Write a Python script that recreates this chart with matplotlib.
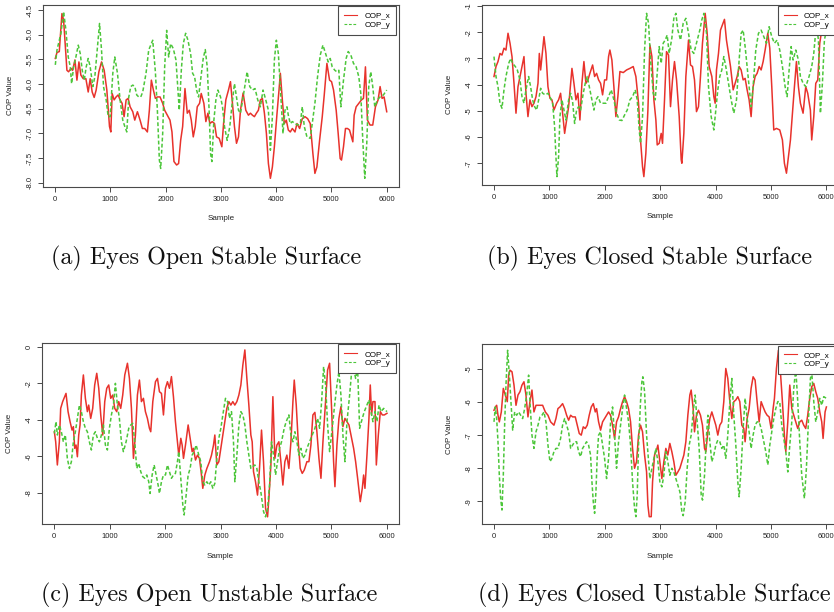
import matplotlib
matplotlib.use("Agg")
import matplotlib.pyplot as plt

plt.rcParams['font.family'] = ['Liberation Sans', 'DejaVu Sans']
plt.rcParams['axes.unicode_minus'] = False

# ---------------- data (sample, COP value) ----------------
a_x = [(6,-5.48),(36,-5.36),(78,-5.34),(126,-4.57),(156,-4.70),(180,-5.11),(216,-5.72),(246,-5.75),(289,-5.68),(319,-5.72),
       (361,-5.51),(397,-5.92),(433,-5.55),(469,-5.82),(511,-5.89),(559,-5.89),(601,-6.16),(637,-5.89),(673,-6.16),(709,-6.27),
       (745,-6.12),(794,-5.75),(842,-5.55),(890,-5.72),(938,-6.12),(986,-6.86),(1010,-6.97),(1034,-6.19),(1070,-6.32),(1106,-6.26),
       (1142,-6.22),(1178,-6.32),(1214,-6.39),(1250,-6.66),(1287,-6.32),(1323,-6.29),(1359,-6.46),(1407,-6.56),(1443,-6.73),(1491,-6.56),
       (1539,-6.73),(1581,-6.90),(1623,-6.90),(1671,-6.97),(1707,-6.53),(1743,-5.92),(1780,-6.12),(1816,-6.29),(1852,-6.26),(1900,-6.26),
       (1948,-6.39),(1984,-6.53),(2032,-6.63),(2080,-6.73),(2116,-6.97),(2152,-7.57),(2200,-7.64),(2236,-7.61),(2273,-7.14),(2309,-6.86),
       (2351,-6.09),(2393,-6.59),(2429,-6.53),(2465,-6.73),(2501,-7.07),(2537,-6.86),(2573,-6.46),(2615,-6.39),(2645,-6.19),(2693,-6.39),
       (2729,-6.76),(2766,-6.59),(2802,-6.80),(2844,-6.76),(2886,-6.80),(2922,-7.07),(2970,-7.10),(3018,-7.27),(3054,-6.73),(3090,-6.32),
       (3138,-6.12),(3174,-5.95),(3210,-6.39),(3246,-6.86),(3283,-7.20),(3319,-7.07),(3355,-6.53),(3403,-6.18),(3451,-6.53),(3499,-6.63),
       (3535,-6.59),(3571,-6.63),(3607,-6.66),(3643,-6.59),(3679,-6.53),(3715,-6.32),(3751,-6.29),(3788,-6.59),(3824,-7.00),(3860,-7.61),
       (3896,-7.91),(3932,-7.68),(3968,-7.27),(4016,-6.59),(4052,-6.12),(4076,-5.78),(4112,-6.32),(4148,-6.80),(4184,-6.73),(4220,-6.93),
       (4256,-6.97),(4293,-6.90),(4341,-6.97),(4377,-6.80),(4425,-6.90),(4473,-6.70),(4521,-6.66),(4569,-6.70),(4617,-6.80),(4665,-7.41),
       (4701,-7.81),(4737,-7.68),(4786,-7.14),(4834,-6.66),(4870,-6.22),(4918,-5.58),(4966,-5.92),(5002,-5.95),(5038,-6.12),(5086,-6.53),
       (5122,-7.00),(5158,-7.51),(5182,-7.54),(5218,-7.27),(5254,-6.90),(5291,-6.90),(5327,-6.93),(5363,-7.07),(5387,-7.17),(5411,-6.63),
       (5447,-6.46),(5495,-6.39),(5543,-6.32),(5579,-6.29),(5615,-5.65),(5651,-6.73),(5699,-6.83),(5747,-6.83),(5796,-6.46),(5844,-6.32),
       (5880,-6.05),(5916,-6.29),(5952,-6.26),(6000,-6.56)]
a_y = [(6,-5.61),(36,-5.31),(78,-5.11),(108,-4.97),(156,-4.53),(198,-4.91),(240,-5.45),(277,-5.65),(301,-5.99),(337,-5.65),
       (373,-5.48),(421,-5.21),(457,-5.38),(493,-5.72),(529,-5.92),(565,-5.65),(601,-5.48),(637,-5.65),(685,-6.05),(721,-5.85),
       (758,-5.38),(806,-4.77),(842,-5.31),(878,-6.05),(926,-6.32),(962,-6.66),(998,-6.66),(1046,-5.78),(1082,-5.45),(1130,-5.78),
       (1178,-6.32),(1226,-6.73),(1263,-6.86),(1299,-6.97),(1335,-6.26),(1371,-6.05),(1407,-6.02),(1443,-6.05),(1479,-6.22),(1515,-6.26),
       (1551,-6.26),(1587,-6.16),(1647,-5.78),(1695,-5.31),(1768,-5.11),(1816,-5.75),(1852,-6.53),(1888,-7.54),(1912,-7.71),(1948,-7.00),
       (1984,-5.65),(2020,-4.91),(2056,-5.45),(2092,-5.18),(2140,-5.28),(2188,-5.51),(2224,-6.12),(2248,-6.53),(2285,-5.72),(2321,-5.18),
       (2363,-4.97),(2405,-5.11),(2453,-5.38),(2489,-5.78),(2525,-5.85),(2561,-6.12),(2597,-6.26),(2633,-5.92),(2681,-5.48),(2718,-5.30),
       (2754,-5.65),(2790,-6.59),(2814,-7.41),(2838,-7.57),(2874,-6.73),(2910,-6.32),(2946,-6.12),(2994,-6.26),(3030,-6.46),(3066,-6.86),
       (3114,-7.14),(3162,-6.86),(3198,-6.46),(3246,-5.99),(3283,-6.26),(3319,-6.53),(3355,-6.59),(3403,-6.26),(3475,-5.75),(3523,-6.05),
       (3571,-6.12),(3619,-6.09),(3667,-6.32),(3715,-6.46),(3763,-6.12),(3812,-6.32),(3860,-6.53),(3896,-7.34),(3932,-6.66),(3968,-5.51),
       (4004,-5.11),(4040,-5.38),(4088,-6.32),(4124,-7.00),(4160,-6.53),(4196,-6.46),(4220,-6.63),(4256,-6.80),(4293,-6.76),(4341,-6.80),
       (4389,-6.83),(4437,-6.80),(4473,-6.46),(4509,-6.86),(4557,-7.07),(4617,-7.10),(4653,-6.80),(4701,-6.39),(4749,-5.85),(4798,-5.41),
       (4846,-5.21),(4894,-5.38),(4942,-5.55),(4978,-5.48),(5014,-5.65),(5062,-5.72),(5098,-5.75),(5134,-5.72),(5170,-6.46),(5218,-5.92),
       (5266,-5.48),(5303,-5.34),(5351,-5.41),(5399,-5.58),(5447,-5.65),(5495,-5.85),(5531,-6.19),(5567,-7.14),(5603,-7.91),(5639,-7.20),
       (5675,-6.05),(5711,-5.75),(5747,-6.05),(5784,-6.46),(5832,-6.32),(5880,-6.26),(5940,-6.22),(6000,-6.12)]

b_x = [(0,-3.69),(36,-3.31),(72,-3.12),(108,-2.81),(144,-2.87),(180,-2.61),(216,-2.68),(253,-2.04),(289,-2.42),(325,-2.93),
       (361,-3.95),(397,-5.09),(433,-4.08),(469,-3.69),(505,-3.31),(541,-2.93),(577,-4.33),(613,-5.22),(649,-4.58),(685,-4.84),
       (721,-4.71),(758,-4.46),(794,-3.95),(818,-2.81),(842,-3.44),(866,-2.93),(902,-2.17),(938,-2.81),(974,-4.08),(1010,-4.52),
       (1046,-4.58),(1082,-4.97),(1130,-4.71),(1166,-4.58),(1202,-4.33),(1238,-5.09),(1275,-5.86),(1311,-5.35),(1347,-4.84),(1383,-3.95),
       (1407,-3.38),(1443,-3.95),(1479,-4.58),(1515,-4.33),(1551,-5.35),(1587,-3.95),(1623,-3.12),(1659,-3.95),(1695,-3.82),(1731,-3.57),
       (1780,-3.25),(1816,-3.69),(1852,-3.57),(1888,-3.82),(1924,-3.95),(1960,-4.39),(1996,-3.82),(2032,-3.82),(2068,-2.93),(2092,-2.68),
       (2128,-3.06),(2164,-4.08),(2200,-5.22),(2236,-4.46),(2273,-3.50),(2333,-3.54),(2393,-3.44),(2453,-3.38),(2513,-3.31),(2561,-3.69),
       (2609,-4.71),(2645,-6.11),(2681,-7.13),(2705,-7.51),(2741,-6.62),(2778,-4.97),(2814,-2.49),(2850,-2.93),(2886,-4.58),(2922,-5.35),
       (2946,-6.30),(2982,-6.24),(3018,-5.86),(3042,-6.24),(3078,-4.58),(3114,-2.74),(3150,-2.87),(3186,-4.84),(3222,-3.82),(3258,-3.12),
       (3295,-3.82),(3343,-5.22),(3379,-6.87),(3391,-7.00),(3427,-5.86),(3463,-3.69),(3511,-2.30),(3547,-3.25),(3583,-3.31),(3619,-3.82),
       (3655,-5.03),(3691,-4.84),(3727,-3.69),(3763,-2.42),(3812,-1.28),(3848,-2.04),(3884,-3.31),(3932,-3.69),(3968,-4.46),(3992,-4.71),
       (4016,-3.44),(4052,-2.81),(4088,-1.92),(4124,-1.72),(4160,-1.51),(4196,-2.30),(4232,-2.81),(4269,-3.31),(4317,-4.20),(4353,-3.95),
       (4389,-3.69),(4425,-3.31),(4461,-3.44),(4497,-3.82),(4533,-3.76),(4569,-4.20),(4605,-4.58),(4641,-5.22),(4677,-4.08),(4713,-3.69),
       (4749,-3.57),(4786,-3.31),(4822,-3.44),(4858,-3.12),(4894,-2.68),(4942,-2.04),(4978,-2.61),(5014,-4.08),(5050,-5.73),(5098,-5.67),
       (5158,-5.73),(5206,-6.11),(5242,-7.00),(5279,-7.38),(5315,-6.75),(5351,-6.11),(5387,-5.09),(5423,-4.08),(5459,-3.12),(5495,-4.08),
       (5531,-4.71),(5579,-5.09),(5627,-4.08),(5663,-4.33),(5711,-4.97),(5735,-6.11),(5772,-5.22),(5808,-3.95),(5844,-3.82),(5880,-2.42),
       (5916,-1.92),(5960,-1.75)]
b_y = [(0,-2.93),(36,-3.69),(72,-4.08),(108,-4.71),(144,-4.90),(180,-4.20),(216,-3.69),(265,-3.19),(301,-3.00),(337,-3.19),
       (385,-3.31),(421,-3.44),(469,-3.82),(505,-4.46),(541,-4.71),(577,-4.20),(625,-3.69),(661,-4.08),(697,-4.58),(733,-4.84),
       (770,-4.97),(806,-4.58),(842,-4.14),(878,-4.33),(926,-4.39),(974,-4.33),(1010,-4.46),(1058,-4.71),(1094,-5.60),(1118,-6.75),
       (1136,-7.51),(1166,-6.75),(1190,-5.22),(1226,-4.58),(1263,-4.97),(1299,-5.35),(1347,-4.58),(1383,-4.33),(1419,-4.65),(1455,-5.48),
       (1491,-4.97),(1527,-4.84),(1563,-4.97),(1611,-4.33),(1647,-3.95),(1683,-3.69),(1719,-4.08),(1756,-4.46),(1804,-4.97),(1840,-4.58),
       (1876,-4.46),(1924,-4.71),(1972,-4.71),(2020,-4.71),(2068,-4.46),(2116,-4.20),(2164,-4.58),(2212,-5.09),(2261,-5.35),(2309,-5.37),
       (2357,-5.16),(2405,-4.97),(2453,-4.58),(2501,-4.46),(2549,-4.20),(2585,-4.58),(2621,-5.73),(2645,-6.24),(2681,-5.22),(2718,-2.68),
       (2754,-1.28),(2790,-1.66),(2826,-3.06),(2874,-4.33),(2910,-4.58),(2946,-3.57),(2982,-2.55),(3018,-3.19),(3054,-2.42),(3090,-2.30),
       (3126,-2.11),(3162,-2.81),(3210,-2.23),(3246,-1.47),(3283,-1.28),(3319,-1.92),(3367,-2.30),(3415,-1.66),(3463,-1.47),(3511,-2.04),
       (3559,-2.68),(3607,-2.81),(3655,-2.42),(3715,-1.92),(3751,-1.53),(3788,-1.28),(3836,-2.04),(3872,-4.08),(3920,-5.22),(3968,-5.73),
       (4004,-4.97),(4040,-4.20),(4076,-3.69),(4112,-3.44),(4148,-2.93),(4184,-3.31),(4232,-3.95),(4281,-4.58),(4329,-5.09),(4377,-4.58),
       (4425,-3.06),(4461,-2.04),(4497,-1.92),(4533,-2.55),(4569,-3.31),(4605,-4.08),(4641,-4.84),(4677,-4.08),(4725,-2.68),(4774,-2.04),
       (4822,-1.92),(4870,-2.17),(4918,-2.42),(4966,-1.79),(5014,-2.17),(5062,-2.42),(5110,-2.30),(5158,-2.68),(5206,-3.31),(5255,-4.08),
       (5291,-4.46),(5327,-3.44),(5363,-2.55),(5399,-3.06),(5447,-2.68),(5495,-3.06),(5531,-3.69),(5579,-3.95),(5627,-4.08),(5687,-3.69),
       (5735,-3.31),(5772,-2.81),(5820,-1.66),(5856,-2.30),(5892,-5.09),(5928,-3.95),(5964,-2.30),(6000,-1.92)]

c_x = [(6,-4.66),(30,-5.21),(60,-6.48),(96,-5.21),(120,-3.38),(156,-3.01),(192,-2.74),(216,-2.56),(253,-3.56),(289,-4.11),
       (325,-4.57),(349,-4.38),(373,-5.57),(397,-5.39),(421,-6.03),(445,-4.84),(469,-4.29),(493,-2.65),(529,-1.55),(565,-2.83),
       (601,-3.56),(625,-3.20),(661,-3.93),(697,-3.38),(733,-2.10),(770,-1.46),(806,-2.28),(842,-3.74),(878,-4.84),(914,-3.01),
       (950,-2.28),(986,-2.10),(1022,-2.83),(1058,-2.65),(1094,-3.38),(1130,-3.56),(1166,-3.01),(1202,-3.38),(1238,-2.65),(1275,-1.55),
       (1323,-0.91),(1359,-1.74),(1395,-3.38),(1431,-6.12),(1467,-4.84),(1503,-2.65),(1539,-1.83),(1575,-3.01),(1611,-2.83),(1647,-3.56),
       (1683,-3.93),(1719,-4.47),(1743,-4.66),(1780,-3.01),(1828,-1.92),(1864,-1.74),(1900,-2.47),(1936,-2.56),(1972,-3.74),(2008,-2.28),
       (2044,-1.92),(2080,-2.28),(2116,-1.64),(2152,-2.74),(2188,-4.11),(2224,-5.21),(2248,-5.94),(2285,-5.02),(2309,-5.39),(2333,-6.12),
       (2369,-5.39),(2417,-4.29),(2453,-5.02),(2489,-5.75),(2513,-5.57),(2549,-6.21),(2585,-5.94),(2621,-6.12),(2657,-7.03),(2681,-7.76),
       (2718,-7.03),(2754,-6.67),(2802,-6.30),(2838,-5.94),(2874,-5.39),(2898,-4.84),(2934,-6.48),(2970,-6.30),(3006,-5.57),(3042,-4.84),
       (3078,-4.11),(3114,-3.38),(3150,-3.01),(3186,-3.20),(3222,-3.01),(3258,-3.20),(3295,-3.01),(3331,-2.65),(3367,-2.10),(3403,-1.00),
       (3439,-0.18),(3475,-1.74),(3511,-3.20),(3547,-4.84),(3571,-5.21),(3595,-6.85),(3631,-7.40),(3667,-8.13),(3703,-6.67),(3739,-4.57),
       (3775,-6.30),(3812,-8.86),(3848,-9.32),(3872,-8.31),(3908,-6.48),(3944,-2.74),(3980,-6.12),(4016,-5.39),(4052,-5.21),(4088,-6.30),
       (4124,-7.58),(4160,-6.30),(4196,-5.94),(4232,-6.67),(4269,-5.21),(4305,-3.01),(4329,-1.83),(4365,-3.20),(4401,-5.21),(4437,-6.67),
       (4473,-6.94),(4509,-6.76),(4557,-6.30),(4593,-6.30),(4629,-5.39),(4665,-3.74),(4701,-3.60),(4737,-4.66),(4774,-6.12),(4810,-7.21),
       (4846,-5.21),(4894,-3.01),(4930,-1.28),(4966,-0.91),(5002,-3.38),(5038,-6.30),(5062,-7.67),(5098,-5.39),(5134,-3.93),(5170,-3.29),
       (5206,-4.38),(5242,-3.93),(5279,-4.11),(5315,-4.29),(5351,-4.84),(5399,-5.57),(5435,-6.30),(5471,-7.21),(5519,-8.49),(5555,-7.76),
       (5579,-7.03),(5603,-7.76),(5639,-5.94),(5675,-3.93),(5699,-2.10),(5723,-3.74),(5747,-3.01),(5784,-3.01),(5808,-6.48),(5844,-4.84),
       (5880,-3.56),(5916,-3.74),(5952,-3.74),(6000,-3.65)]
c_y = [(6,-4.75),(36,-4.11),(60,-4.84),(96,-4.29),(132,-4.66),(168,-5.21),(204,-4.84),(240,-6.12),(277,-6.67),(313,-6.30),
       (349,-5.21),(385,-4.66),(421,-3.93),(457,-3.20),(493,-3.56),(529,-4.11),(565,-4.47),(601,-4.66),(637,-5.21),(673,-5.66),
       (709,-4.84),(745,-4.66),(782,-5.02),(818,-5.21),(854,-4.84),(890,-4.29),(926,-5.39),(962,-5.66),(998,-4.47),(1034,-3.74),
       (1070,-3.20),(1106,-2.01),(1142,-3.20),(1178,-3.93),(1214,-5.21),(1250,-5.75),(1299,-5.21),(1347,-4.47),(1383,-4.29),(1419,-4.20),
       (1455,-5.21),(1491,-6.67),(1527,-6.39),(1563,-6.85),(1599,-7.12),(1635,-7.21),(1671,-7.03),(1707,-7.40),(1731,-8.04),(1768,-7.03),
       (1804,-6.48),(1840,-7.03),(1876,-7.58),(1900,-8.04),(1936,-7.40),(1972,-7.03),(2008,-7.03),(2044,-6.48),(2080,-6.85),(2116,-7.21),
       (2152,-7.03),(2188,-6.94),(2224,-6.30),(2248,-5.75),(2285,-7.21),(2321,-8.68),(2345,-9.22),(2381,-8.13),(2417,-7.03),(2453,-6.67),
       (2489,-5.94),(2525,-5.75),(2561,-5.39),(2609,-5.94),(2645,-6.30),(2681,-7.40),(2718,-7.58),(2754,-7.40),(2790,-7.58),(2826,-7.40),
       (2862,-7.76),(2898,-7.49),(2934,-6.12),(2970,-5.02),(3006,-4.47),(3042,-3.74),(3090,-2.83),(3126,-3.01),(3162,-3.93),(3198,-3.56),
       (3234,-5.21),(3258,-7.40),(3295,-5.94),(3331,-4.29),(3367,-3.56),(3403,-3.74),(3439,-4.29),(3475,-5.21),(3511,-5.94),(3547,-6.67),
       (3583,-6.58),(3619,-6.48),(3655,-6.67),(3691,-7.40),(3727,-7.95),(3776,-9.04),(3812,-9.32),(3848,-8.86),(3884,-7.58),(3920,-5.21),
       (3956,-5.94),(3992,-7.03),(4028,-6.30),(4064,-5.57),(4100,-5.21),(4148,-4.47),(4184,-4.11),(4232,-3.74),(4269,-4.84),(4305,-5.21),
       (4341,-4.66),(4377,-5.21),(4413,-5.94),(4449,-5.57),(4485,-6.12),(4521,-5.94),(4557,-5.57),(4605,-5.21),(4653,-4.84),(4701,-4.47),
       (4749,-3.93),(4786,-4.47),(4822,-3.01),(4858,-1.10),(4894,-2.10),(4930,-4.29),(4966,-5.75),(5014,-4.47),(5050,-3.38),(5098,-2.10),
       (5134,-1.37),(5170,-2.65),(5206,-4.84),(5242,-6.30),(5279,-4.11),(5327,-2.65),(5363,-1.37),(5399,-1.19),(5435,-1.74),(5471,-1.19),
       (5507,-4.47),(5555,-3.93),(5591,-3.56),(5639,-3.20),(5675,-2.92),(5711,-3.56),(5747,-4.11),(5784,-3.56),(5820,-4.11),(5856,-3.20),
       (5892,-3.56),(5940,-3.38),(6000,-3.56)]

d_x = [(0,-6.25),(24,-6.15),(48,-6.10),(72,-6.40),(96,-6.60),(132,-6.30),(168,-5.59),(204,-5.79),(240,-5.99),(265,-5.19),
       (289,-5.04),(325,-5.09),(361,-5.49),(397,-6.10),(433,-5.79),(469,-5.69),(505,-5.49),(541,-5.39),(577,-5.79),(613,-6.45),
       (649,-5.99),(685,-5.64),(721,-6.30),(758,-6.10),(794,-6.10),(830,-6.10),(878,-6.10),(926,-6.30),(974,-6.40),(1022,-6.60),
       (1082,-6.70),(1118,-6.50),(1154,-6.20),(1190,-6.15),(1238,-6.05),(1275,-6.20),(1311,-6.40),(1347,-6.55),(1383,-6.40),(1419,-6.45),
       (1467,-6.45),(1503,-6.70),(1539,-6.95),(1575,-7.00),(1611,-6.75),(1647,-6.80),(1683,-6.70),(1719,-6.40),(1756,-6.15),(1792,-6.05),
       (1828,-6.30),(1852,-6.20),(1888,-6.60),(1924,-6.85),(1960,-6.60),(1996,-6.50),(2032,-6.40),(2068,-6.30),(2104,-6.40),(2140,-6.70),
       (2176,-7.10),(2212,-6.60),(2248,-6.45),(2285,-6.20),(2321,-5.99),(2357,-5.84),(2393,-5.99),(2429,-6.20),(2465,-6.60),(2501,-7.40),
       (2537,-8.00),(2573,-7.80),(2609,-7.00),(2645,-6.70),(2681,-6.90),(2718,-7.60),(2754,-8.11),(2778,-9.11),(2802,-9.46),(2838,-9.46),
       (2862,-8.41),(2898,-7.60),(2934,-7.45),(2958,-7.30),(2994,-7.80),(3030,-8.31),(3066,-7.80),(3102,-7.40),(3138,-7.60),(3174,-7.25),
       (3210,-7.50),(3246,-7.80),(3283,-8.21),(3319,-8.11),(3355,-8.00),(3391,-7.80),(3427,-7.60),(3463,-7.20),(3499,-6.40),(3535,-5.79),
       (3559,-5.64),(3595,-6.20),(3619,-6.90),(3655,-6.40),(3691,-6.25),(3727,-6.40),(3763,-6.70),(3800,-7.40),(3824,-7.50),(3860,-6.90),
       (3896,-6.50),(3932,-6.30),(3968,-6.50),(4004,-6.70),(4040,-7.00),(4076,-6.70),(4112,-6.60),(4148,-5.99),(4184,-4.99),(4220,-5.29),
       (4257,-5.99),(4293,-6.50),(4329,-5.99),(4365,-5.94),(4401,-5.84),(4437,-5.99),(4473,-6.70),(4509,-6.80),(4533,-7.20),(4569,-6.50),
       (4605,-6.20),(4641,-5.59),(4677,-5.24),(4713,-5.34),(4749,-5.99),(4786,-6.60),(4822,-5.99),(4858,-6.15),(4894,-6.30),(4930,-6.40),
       (4966,-6.45),(5002,-6.80),(5038,-6.20),(5062,-5.89),(5098,-4.99),(5134,-4.44),(5170,-5.09),(5206,-5.99),(5242,-7.00),(5267,-7.50),
       (5303,-6.60),(5339,-5.49),(5375,-6.20),(5411,-6.40),(5447,-6.60),(5483,-6.80),(5519,-6.60),(5555,-6.55),(5591,-6.70),(5627,-6.80),
       (5663,-6.40),(5699,-5.89),(5735,-5.54),(5772,-5.44),(5808,-5.69),(5844,-5.89),(5880,-6.30),(5916,-6.60),(5940,-7.10),(5976,-6.30),
       (6000,-6.15)]
d_y = [(0,-6.60),(24,-6.15),(48,-6.50),(72,-7.20),(96,-8.21),(120,-8.91),(144,-9.26),(168,-8.21),(192,-6.70),(216,-5.49),
       (246,-4.44),(277,-5.19),(313,-6.20),(337,-6.85),(373,-6.30),(409,-6.40),(445,-6.30),(481,-6.40),(517,-6.50),(553,-6.20),
       (589,-5.79),(625,-5.19),(649,-5.99),(685,-7.00),(721,-7.40),(758,-6.90),(794,-6.70),(830,-6.45),(866,-6.40),(902,-6.30),
       (938,-6.60),(974,-7.30),(1010,-7.80),(1046,-7.70),(1082,-7.50),(1118,-7.40),(1154,-7.40),(1202,-7.10),(1238,-6.70),(1275,-6.50),
       (1311,-6.70),(1347,-6.90),(1383,-7.40),(1419,-7.30),(1455,-7.20),(1491,-7.20),(1527,-7.50),(1563,-7.65),(1599,-7.40),(1635,-7.30),
       (1671,-7.20),(1707,-7.30),(1743,-7.60),(1768,-8.41),(1792,-9.01),(1816,-9.36),(1840,-8.71),(1864,-7.60),(1888,-7.00),(1924,-6.90),
       (1960,-7.30),(1996,-7.70),(2032,-8.31),(2068,-7.70),(2104,-6.60),(2140,-6.15),(2176,-7.00),(2212,-8.00),(2248,-7.20),(2285,-6.70),
       (2321,-6.20),(2357,-5.79),(2393,-6.20),(2429,-6.60),(2465,-7.30),(2501,-8.41),(2537,-9.21),(2561,-9.46),(2585,-8.81),(2609,-7.30),
       (2645,-5.99),(2669,-5.39),(2687,-5.24),(2718,-5.69),(2754,-7.00),(2790,-7.80),(2814,-8.31),(2850,-8.00),(2886,-7.70),(2922,-7.40),
       (2958,-7.80),(2994,-8.41),(3030,-8.56),(3066,-8.21),(3102,-7.50),(3138,-7.80),(3174,-8.21),(3210,-8.00),(3246,-8.11),(3283,-8.31),
       (3319,-8.51),(3355,-8.71),(3391,-9.31),(3415,-9.43),(3451,-9.01),(3487,-8.00),(3523,-7.30),(3559,-7.00),(3595,-6.30),(3631,-5.79),
       (3667,-6.60),(3703,-7.40),(3740,-8.81),(3764,-8.96),(3800,-8.21),(3836,-7.00),(3860,-6.40),(3896,-7.20),(3932,-7.80),(3968,-7.60),
       (4004,-7.30),(4040,-7.15),(4076,-7.20),(4112,-7.40),(4148,-7.30),(4184,-7.70),(4220,-7.00),(4257,-5.99),(4293,-5.29),(4329,-6.40),
       (4365,-7.30),(4401,-8.41),(4425,-8.86),(4461,-8.00),(4497,-6.80),(4533,-5.89),(4569,-6.50),(4605,-6.90),(4641,-7.40),(4677,-7.00),
       (4713,-6.70),(4749,-6.60),(4786,-6.60),(4822,-6.80),(4858,-7.10),(4906,-7.50),(4942,-7.90),(4978,-7.30),(5014,-6.90),(5050,-6.50),
       (5086,-6.20),(5122,-5.99),(5158,-5.99),(5194,-6.70),(5230,-7.10),(5267,-7.50),(5303,-8.11),(5339,-7.30),(5375,-6.60),(5411,-5.59),
       (5447,-4.99),(5483,-5.99),(5519,-7.20),(5555,-8.21),(5603,-8.91),(5639,-8.00),(5675,-6.60),(5711,-5.29),(5735,-5.09),(5772,-5.99),
       (5808,-6.60),(5844,-6.30),(5880,-5.89),(5916,-6.10),(5952,-5.84),(6000,-5.89)]

captions = ["(a) Eyes Open Stable Surface", "(b) Eyes Closed Stable Surface",
            "(c) Eyes Open Unstable Surface", "(d) Eyes Closed Unstable Surface"]
x_ticks = [0, 1000, 2000, 3000, 4000, 5000, 6000]
y_ticks = [[-4.5, -5.0, -5.5, -6.0, -6.5, -7.0, -7.5, -8.0],
           [-1, -2, -3, -4, -5, -6, -7],
           [0, -2, -4, -6, -8],
           [-5, -6, -7, -8, -9]]
y_tick_labels = [["-4.5", "-5.0", "-5.5", "-6.0", "-6.5", "-7.0", "-7.5", "-8.0"],
                 ["-1", "-2", "-3", "-4", "-5", "-6", "-7"],
                 ["0", "-2", "-4", "-6", "-8"],
                 ["-5", "-6", "-7", "-8", "-9"]]
series_names = ["COP_x", "COP_y"]

# ---------------- layout ----------------
W, H = 834, 612
fig = plt.figure(figsize=(W / 100, H / 100), dpi=100)

def box(l, t, r, b):
    return [l / W, 1 - b / H, (r - l) / W, (b - t) / H]

panels = [
    dict(rect=box(42.7, 4.7, 399.0, 186.7), ylim=(-8.08, -4.39), data=(a_x, a_y)),
    dict(rect=box(481.7, 4.7, 838.7, 185.0), ylim=(-7.83, -0.95), data=(b_x, b_y)),
    dict(rect=box(41.7, 343.0, 399.3, 524.3), ylim=(-9.73, 0.20), data=(c_x, c_y)),
    dict(rect=box(481.7, 344.3, 838.7, 524.3), ylim=(-9.69, -4.26), data=(d_x, d_y)),
]
cap_pos = [(51, 258, 'left'), (487, 258, 'left'), (41, 595, 'left'), (831, 595, 'right')]

RED = '#e8322c'
GREEN = '#4cc63a'
FRAME = '#4a4a4a'

for i, p in enumerate(panels):
    ax = fig.add_axes(p['rect'])
    sx, sy = p['data']
    ax.plot([s for s, v in sx], [v for s, v in sx], color=RED, lw=1.1,
            label=series_names[0], solid_joinstyle='round')
    ax.plot([s for s, v in sy], [v for s, v in sy], color=GREEN, lw=1.1,
            dashes=(2.5, 1.5), label=series_names[1])
    ax.set_xlim(-222, 6222)
    ax.set_ylim(*p['ylim'])
    ax.set_xticks(x_ticks)
    ax.set_xticklabels([str(t) for t in x_ticks])
    ax.set_yticks(y_ticks[i])
    ax.set_yticklabels(y_tick_labels[i], rotation=90, va='center')
    for sp in ax.spines.values():
        sp.set_color(FRAME)
        sp.set_linewidth(0.8)
    ax.tick_params(direction='out', length=3.6, width=0.7, color=FRAME,
                   labelsize=5.5, labelcolor='#222222', pad=3)
    ax.set_xlabel("Sample", fontsize=5.8, color='#222222')
    ax.set_ylabel("COP Value", fontsize=5.8, color='#222222')
    ax.xaxis.set_label_coords(0.5, -32.3 / 182)
    ax.xaxis.label.set_va('center')
    ax.yaxis.set_label_coords(-32.5 / 357, 0.5)
    ax.yaxis.label.set_va('center')
    leg = ax.legend(loc='upper right', bbox_to_anchor=(1 - 3 / 357, 1 - 1.3 / 182),
                    borderaxespad=0, fontsize=5.8, fancybox=False, framealpha=1,
                    edgecolor=FRAME, borderpad=0.75, labelspacing=0.15,
                    handlelength=1.6, handletextpad=0.9)
    leg.get_frame().set_linewidth(0.8)
    for line in leg.get_lines():
        line.set_linewidth(0.8)
    cx, cy, ha = cap_pos[i]
    fig.text(cx / W, 1 - cy / H, captions[i], family='cmr10', fontsize=17.3,
             ha=ha, va='center', color='#111111')

fig.savefig("out.png", dpi=100)
